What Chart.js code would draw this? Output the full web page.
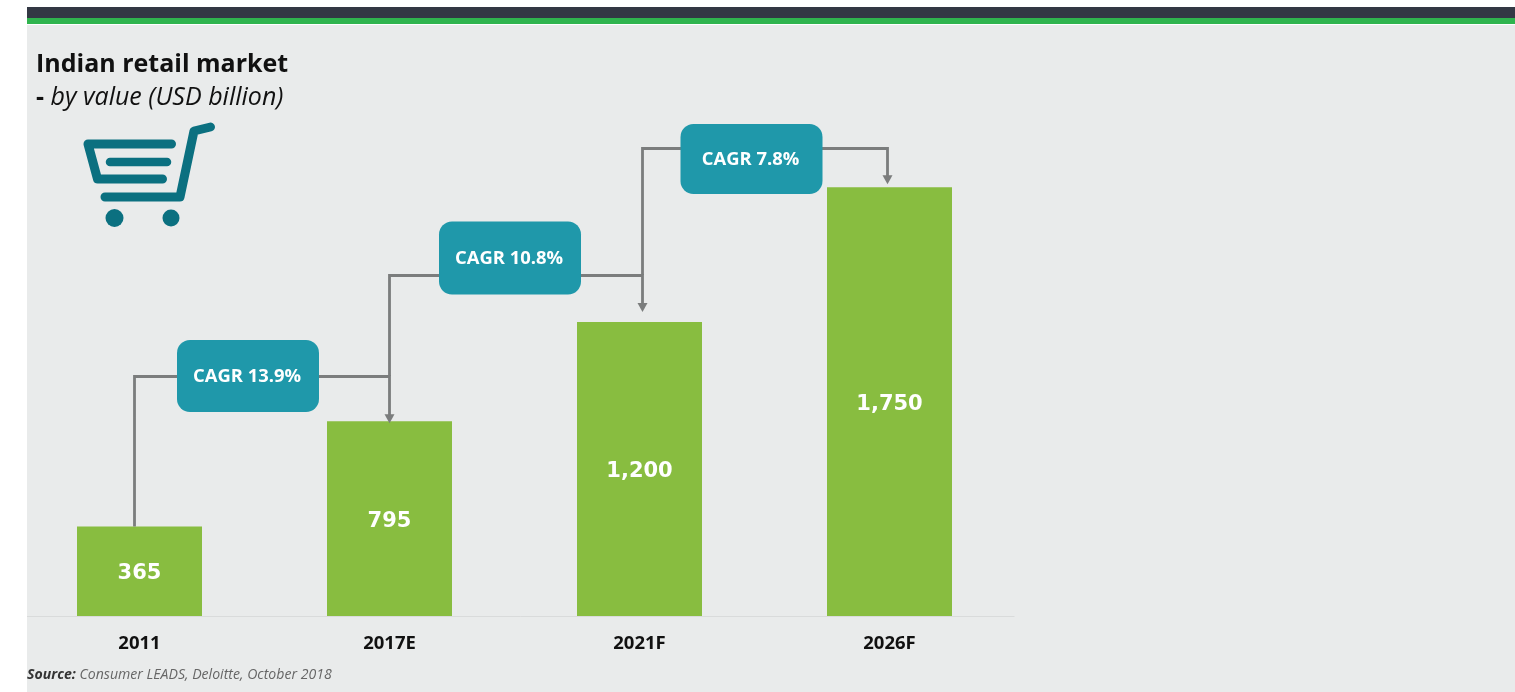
<!DOCTYPE html>
<html>
<head>
<meta charset="utf-8">
<script src="https://cdn.jsdelivr.net/npm/chart.js@4"></script>
<style>
html,body{margin:0;padding:0;background:#fff;width:1515px;height:692px;overflow:hidden;font-family:"Open Sans",sans-serif}
.panel{position:absolute;left:27px;top:25px;width:1488px;height:667px;background:#e9ebeb}
.dark{position:absolute;left:27px;top:7px;width:1488px;height:11px;background:#333844}
.green{position:absolute;left:27px;top:18px;width:1488px;height:6px;background:#2fb44e}
canvas{position:absolute;left:0;top:0}
.t{position:absolute;white-space:nowrap;color:#111}
#title{left:36px;top:45px;font-size:25px;font-weight:700;line-height:34px}
#sub{left:36px;top:79px;font-size:25px;font-style:italic;line-height:32px}
#sub b{font-style:normal}
#source{left:27px;top:664px;font-size:14.1px;font-style:italic;color:#666;line-height:20px}
#source b{color:#333}
#cart{position:absolute;left:0;top:0}
</style>
</head>
<body>
<div class="panel"></div><div class="dark"></div><div class="green"></div>
<canvas id="c" width="1515" height="692"></canvas>
<div class="t" id="title">Indian retail market</div>
<div class="t" id="sub"><b>-</b> by value (USD billion)</div>
<div class="t" id="source"><b>Source:</b> Consumer LEADS, Deloitte, October 2018</div>
<svg id="cart" width="240" height="240" fill="none" stroke="#0b7080" stroke-width="8.500" stroke-linecap="round" stroke-linejoin="round">
<path d="M171.500 144H88L97.500 179H162.500" stroke-width="9"/><path d="M110 162H167"/>
<path d="M210.500 127L194 131L180 197H105" stroke-width="9"/>
<circle cx="114.500" cy="218" r="9" fill="#0b7080" stroke="none"/><circle cx="171" cy="218" r="8.500" fill="#0b7080" stroke="none"/>
</svg>
<script>
const categories = ['2011', '2017E', '2021F', '2026F'];
const values = [365, 795, 1200, 1750];
const cagrLabels = ['CAGR 13.9%', 'CAGR 10.8%', 'CAGR 7.8%'];
const connectorLevels = [980, 1392, 1910];

const overlay = {
  id: 'overlay',
  afterDatasetsDraw(chart) {
    const {ctx, scales: {x, y}, chartArea} = chart;
    ctx.save();
    // baseline
    ctx.strokeStyle = '#d9dbdb'; ctx.lineWidth = 1;
    ctx.beginPath(); ctx.moveTo(27, y.getPixelForValue(0) + .5); ctx.lineTo(chartArea.right, y.getPixelForValue(0) + .5); ctx.stroke();
    // value labels
    ctx.font = 'bold 21px "DejaVu Sans"'; ctx.fillStyle = '#fff'; ctx.textAlign = 'center'; ctx.textBaseline = 'middle';
    values.forEach((v, i) => ctx.fillText(v.toLocaleString('en-US'), x.getPixelForValue(i), y.getPixelForValue(v / 2) + 2.500));
    // connectors
    const startOff = [-5.500, -1, 2.5], endOff = [0, 3.5, -1.5];
    const tipOff = [2, -10, -3];
    cagrLabels.forEach((lab, i) => {
      const ly = Math.round(y.getPixelForValue(connectorLevels[i])) + .5;
      const sx = Math.round(x.getPixelForValue(i) + startOff[i]) + .5;
      const ex = Math.round(x.getPixelForValue(i + 1) + endOff[i]) - .5;
      const sy = i === 0 ? y.getPixelForValue(values[0]) : Math.round(y.getPixelForValue(connectorLevels[i - 1]));
      const tip = y.getPixelForValue(values[i + 1]) + tipOff[i];
      ctx.strokeStyle = '#7b7d7d'; ctx.lineWidth = 2.8;
      ctx.beginPath(); ctx.moveTo(sx, sy); ctx.lineTo(sx, ly); ctx.lineTo(ex, ly); ctx.lineTo(ex, tip - 6); ctx.stroke();
      ctx.fillStyle = '#7b7d7d';
      ctx.beginPath(); ctx.moveTo(ex - 5, tip - 9); ctx.lineTo(ex + 5, tip - 9); ctx.lineTo(ex, tip); ctx.closePath(); ctx.fill();
      // badge
      const w = 142, h = [72, 73, 70][i];
      const cx = (x.getPixelForValue(i) + x.getPixelForValue(i + 1)) / 2 + [-16.500, -4.500, -13][i];
      const cy = ly + [-0.500, -17.500, 10.500][i];
      ctx.fillStyle = '#1f98aa';
      ctx.beginPath(); ctx.roundRect(cx - w / 2, cy - h / 2, w, h, 13); ctx.fill();
      ctx.fillStyle = '#fff'; ctx.font = 'bold 18.400px "Open Sans"'; ctx.textBaseline = 'middle';
      ctx.fillText(lab, cx - 1, cy + .5);
    });
    ctx.restore();
  }
};

new Chart(document.getElementById('c'), {
  type: 'bar',
  data: {labels: categories, datasets: [{data: values, backgroundColor: '#88bd40', borderWidth: 0, barPercentage: .5, categoryPercentage: 1}]},
  options: {
    responsive: false, animation: false, devicePixelRatio: 1,
    layout: {padding: {left: 14.5, right: 500.5, top: 126, bottom: 0}},
    plugins: {legend: {display: false}, tooltip: {enabled: false}},
    scales: {
      x: {
        grid: {display: false, drawTicks: false}, border: {display: false},
        ticks: {color: '#111', font: {family: '"Open Sans"', weight: 'bold', size: 18.5}, padding: 17, maxRotation: 0},
        afterFit(s) { s.height = 76; }
      },
      y: {display: false, min: 0, max: 2000}
    }
  },
  plugins: [overlay]
});
</script>
</body>
</html>
